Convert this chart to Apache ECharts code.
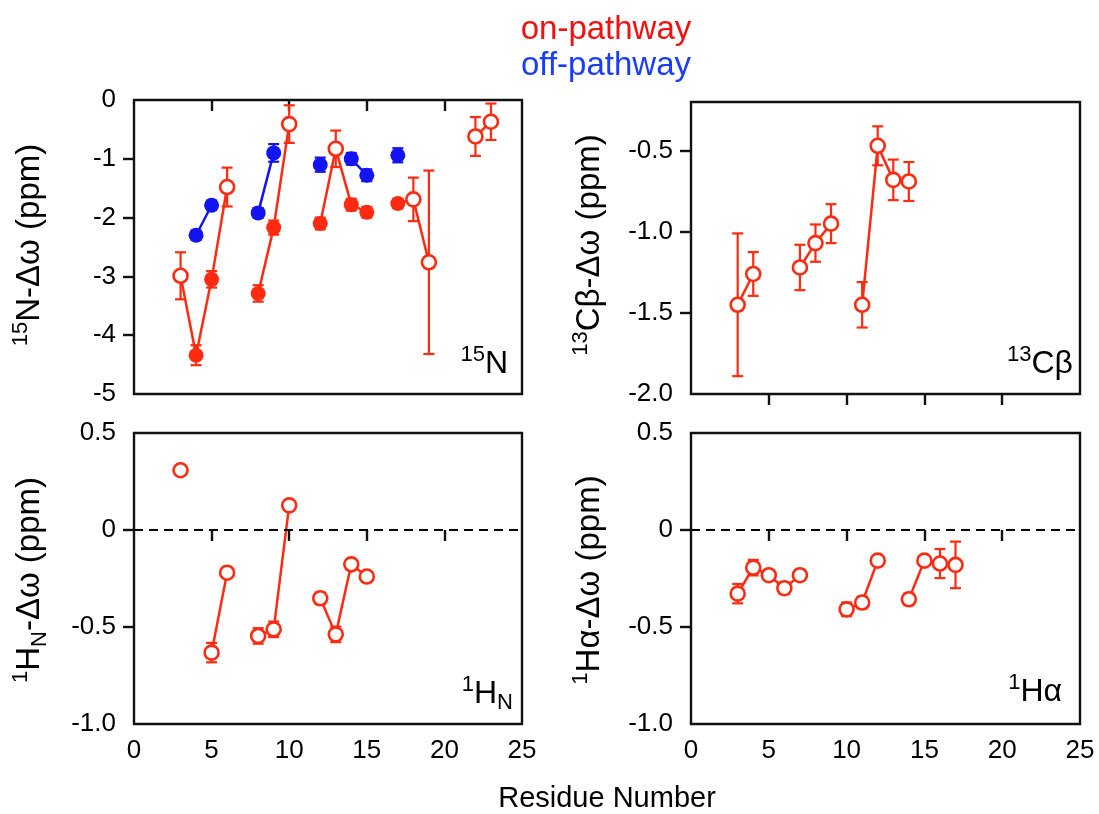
<!DOCTYPE html>
<html><head><meta charset="utf-8">
<script src="https://cdn.jsdelivr.net/npm/echarts@6/dist/echarts.min.js"></script>
<style>html,body{margin:0;padding:0;background:#fff}#c{width:1099px;height:814px}</style>
</head><body><div id="c"></div>
<script>
// ---------- tick labels ----------
const xTickVals = [0, 5, 10, 15, 20, 25];
const n15TickVals = [0, -1, -2, -3, -4, -5];
const cbTickVals = [-0.5, -1.0, -1.5, -2.0];
const hTickVals = [0.5, 0, -0.5, -1.0];

// ---------- 15N, on-pathway (red) ----------
const n15OnRes  = [3, 4, 5, 6, 8, 9, 10, 12, 13, 14, 15, 17, 18, 19, 22, 23];
const n15OnVal  = [-2.99, -4.34, -3.05, -1.48, -3.29, -2.17, -0.41, -2.10, -0.83, -1.78, -1.91, -1.76, -1.69, -2.76, -0.62, -0.37];
const n15OnErr  = [0.40, 0.17, 0.14, 0.33, 0.14, 0.12, 0.32, 0.10, 0.31, 0.10, 0.09, 0.08, 0.37, 1.56, 0.33, 0.31];
const n15OnOpen = [1, 0, 0, 1, 0, 0, 1, 0, 1, 0, 0, 0, 1, 1, 1, 1];
// ---------- 15N, off-pathway (blue) ----------
const n15OffRes = [4, 5, 8, 9, 12, 14, 15, 17];
const n15OffVal = [-2.30, -1.79, -1.92, -0.90, -1.10, -1.00, -1.28, -0.94];
const n15OffErr = [0.08, 0.08, 0.08, 0.15, 0.12, 0.10, 0.10, 0.12];
// ---------- 13Cbeta ----------
const cbRes = [3, 4, 7, 8, 9, 11, 12, 13, 14];
const cbVal = [-1.45, -1.26, -1.22, -1.07, -0.95, -1.45, -0.47, -0.68, -0.69];
const cbErr = [0.44, 0.135, 0.14, 0.115, 0.12, 0.14, 0.12, 0.125, 0.12];
// ---------- 1HN ----------
const hnRes = [3, 5, 6, 8, 9, 10, 12, 13, 14, 15];
const hnVal = [0.308, -0.632, -0.22, -0.546, -0.512, 0.127, -0.352, -0.538, -0.177, -0.24];
const hnErr = [0.02, 0.05, 0.02, 0.04, 0.04, 0.02, 0.03, 0.04, 0.025, 0.02];
// ---------- 1Halpha ----------
const haRes = [3, 4, 5, 6, 7, 10, 11, 12, 14, 15, 16, 17];
const haVal = [-0.328, -0.194, -0.233, -0.30, -0.233, -0.409, -0.374, -0.158, -0.357, -0.158, -0.173, -0.18];
const haErr = [0.05, 0.04, 0.02, 0.03, 0.025, 0.035, 0.03, 0.02, 0.03, 0.02, 0.075, 0.12];

const RED = '#ff2a10', BLUE = '#1414f0';
const FONT = '"Liberation Sans", Arial, Helvetica, sans-serif';

// split into runs of consecutive residues
function runs(res, val) {
  const out = []; let cur = [];
  for (let i = 0; i < res.length; i++) {
    if (i > 0 && res[i] - res[i - 1] > 1) { out.push(cur); cur = []; }
    cur.push([res[i], val[i]]);
  }
  if (cur.length) out.push(cur);
  return out.filter(r => r.length > 1);
}
function lineSeries(gi, res, val, color) {
  return runs(res, val).map(d => ({
    type: 'line', xAxisIndex: gi, yAxisIndex: gi, data: d, symbol: 'none',
    lineStyle: { color: color, width: 2.5 }, z: 2, silent: true
  }));
}
function errSeries(gi, res, val, err, color) {
  return {
    type: 'custom', xAxisIndex: gi, yAxisIndex: gi, z: 3, silent: true,
    encode: { x: 0, y: [1, 2] },
    data: res.map((r, i) => [r, val[i] - err[i], val[i] + err[i]]),
    renderItem: function (params, api) {
      const x = api.value(0);
      const lo = api.coord([x, api.value(1)]);
      const hi = api.coord([x, api.value(2)]);
      const w = 5.5;
      const st = { stroke: color, lineWidth: 2.2 };
      return { type: 'group', children: [
        { type: 'line', shape: { x1: lo[0], y1: lo[1], x2: hi[0], y2: hi[1] }, style: st },
        { type: 'line', shape: { x1: lo[0] - w, y1: lo[1], x2: lo[0] + w, y2: lo[1] }, style: st },
        { type: 'line', shape: { x1: hi[0] - w, y1: hi[1], x2: hi[0] + w, y2: hi[1] }, style: st }
      ]};
    }
  };
}
function markerSeries(gi, res, val, open, color) {
  const o = [], f = [];
  res.forEach((r, i) => { (open[i] ? o : f).push([r, val[i]]); });
  const s = [];
  if (f.length) s.push({ type: 'scatter', xAxisIndex: gi, yAxisIndex: gi, data: f, symbol: 'circle', symbolSize: 15,
    itemStyle: { color: color, opacity: 1 }, z: 5, silent: true });
  if (o.length) s.push({ type: 'scatter', xAxisIndex: gi, yAxisIndex: gi, data: o, symbol: 'circle', symbolSize: 14,
    itemStyle: { color: '#ffffff', borderColor: color, borderWidth: 2.6, opacity: 1 }, z: 5, silent: true });
  return s;
}

const grids = [
  { left: 134, top: 100, width: 388, height: 294 },
  { left: 691, top: 102, width: 389, height: 292 },
  { left: 134, top: 433, width: 388, height: 291 },
  { left: 691, top: 433, width: 389, height: 291 }
].map(g => Object.assign(g, { show: true, borderColor: '#111', borderWidth: 2.4, backgroundColor: 'transparent' }));

const tickStyle = { color: '#111', width: 2.4 };
function xAxis(gi, labels) {
  return {
    type: 'value', gridIndex: gi, min: 0, max: 25, interval: 5,
    axisLine: { show: false }, splitLine: { show: false },
    axisTick: { show: true, inside: false, length: 11, lineStyle: tickStyle, customValues: xTickVals.slice(1, -1) },
    axisLabel: { show: labels, color: '#000', fontFamily: FONT, fontSize: 26, margin: 14, customValues: xTickVals,
      showMinLabel: true, showMaxLabel: true }
  };
}
function yAxis(gi, min, max, ticks, fmt) {
  return {
    type: 'value', gridIndex: gi, min: min, max: max, interval: 0.5,
    axisLine: { show: false }, splitLine: { show: false },
    axisTick: { show: true, inside: false, length: 11, lineStyle: tickStyle,
      customValues: ticks.filter(v => v > min + 1e-9 && v < max - 1e-9) },
    axisLabel: { show: true, color: '#000', fontFamily: FONT, fontSize: 26, margin: 18, customValues: ticks,
      formatter: fmt, showMinLabel: true, showMaxLabel: true }
  };
}
const fmtInt = v => String(Math.round(v));
const fmt1 = v => v.toFixed(1);
const fmtH = v => (Math.abs(v) < 1e-9 ? '0' : v.toFixed(1));

let series = [];
// panel 0: 15N
series = series.concat(lineSeries(0, n15OnRes, n15OnVal, RED));
series = series.concat(lineSeries(0, n15OffRes, n15OffVal, BLUE));
series.push(errSeries(0, n15OnRes, n15OnVal, n15OnErr, RED));
series.push(errSeries(0, n15OffRes, n15OffVal, n15OffErr, BLUE));
series = series.concat(markerSeries(0, n15OffRes, n15OffVal, n15OffRes.map(() => 0), BLUE));
series = series.concat(markerSeries(0, n15OnRes, n15OnVal, n15OnOpen, RED));
// panel 1: 13Cb
series = series.concat(lineSeries(1, cbRes, cbVal, RED));
series.push(errSeries(1, cbRes, cbVal, cbErr, RED));
series = series.concat(markerSeries(1, cbRes, cbVal, cbRes.map(() => 1), RED));
// panel 2: 1HN
series = series.concat(lineSeries(2, hnRes, hnVal, RED));
series.push(errSeries(2, hnRes, hnVal, hnErr, RED));
series = series.concat(markerSeries(2, hnRes, hnVal, hnRes.map(() => 1), RED));
// panel 3: 1Ha
series = series.concat(lineSeries(3, haRes, haVal, RED));
series.push(errSeries(3, haRes, haVal, haErr, RED));
series = series.concat(markerSeries(3, haRes, haVal, haRes.map(() => 1), RED));
// dashed zero lines
[2, 3].forEach(gi => series.push({
  type: 'line', xAxisIndex: gi, yAxisIndex: gi, data: [], z: 1, silent: true,
  markLine: { silent: true, symbol: 'none', label: { show: false }, animation: false,
    lineStyle: { color: '#000', width: 2.2, type: [9, 6] }, data: [{ yAxis: 0 }] }
}));

const mainRich = (fs) => ({
  m: { fontFamily: FONT, fontSize: fs, color: '#000', lineHeight: fs + 8 },
  sup: { fontFamily: FONT, fontSize: Math.round(fs * 0.68), color: '#000', verticalAlign: 'top', lineHeight: Math.round(fs * 0.68) + 2 },
  sub: { fontFamily: FONT, fontSize: Math.round(fs * 0.68), color: '#000', verticalAlign: 'bottom', lineHeight: Math.round(fs * 0.68) + 2 }
});
function ytitle(x, y, text) {
  return { type: 'text', x: x, y: y, rotation: Math.PI / 2,
    style: { text: text, rich: mainRich(33), align: 'center', verticalAlign: 'middle' } };
}
function plabel(x, y, text) {
  return { type: 'text', x: x, y: y,
    style: { text: text, rich: mainRich(32), align: 'right', verticalAlign: 'middle' } };
}

const graphic = [
  { type: 'text', x: 606, y: 30, style: { text: 'on-pathway', fill: '#f51010', font: '33px ' + FONT, align: 'center', verticalAlign: 'middle' } },
  { type: 'text', x: 606, y: 66, style: { text: 'off-pathway', fill: '#1a3cff', font: '33px ' + FONT, align: 'center', verticalAlign: 'middle' } },
  { type: 'text', x: 607, y: 799, style: { text: 'Residue Number', fill: '#000', font: '29px ' + FONT, align: 'center', verticalAlign: 'middle' } },
  ytitle(30, 245, '{sup|15}{m|N-Δω (ppm)}'),
  ytitle(590, 245, '{sup|13}{m|Cβ-Δω (ppm)}'),
  ytitle(30, 580, '{sup|1}{m|H}{sub|N}{m|-Δω (ppm)}'),
  ytitle(590, 580, '{sup|1}{m|Hα-Δω (ppm)}'),
  plabel(508, 364, '{sup|15}{m|N}'),
  plabel(1073, 364, '{sup|13}{m|Cβ}'),
  plabel(513, 694, '{sup|1}{m|H}{sub|N}'),
  plabel(1062, 692, '{sup|1}{m|Hα}')
];

const option = {
  animation: false,
  backgroundColor: '#fff',
  grid: grids,
  xAxis: [xAxis(0, false), xAxis(1, false), xAxis(2, true), xAxis(3, true)],
  yAxis: [
    Object.assign(yAxis(0, -5, 0, n15TickVals, fmtInt), { interval: 1 }),
    yAxis(1, -2.0, -0.2, cbTickVals, fmt1),
    yAxis(2, -1.0, 0.5, hTickVals, fmtH),
    yAxis(3, -1.0, 0.5, hTickVals, fmtH)
  ],
  series: series,
  graphic: graphic
};
const chart = echarts.init(document.getElementById('c'), null, { renderer: 'canvas' });
chart.setOption(option);
</script></body></html>
